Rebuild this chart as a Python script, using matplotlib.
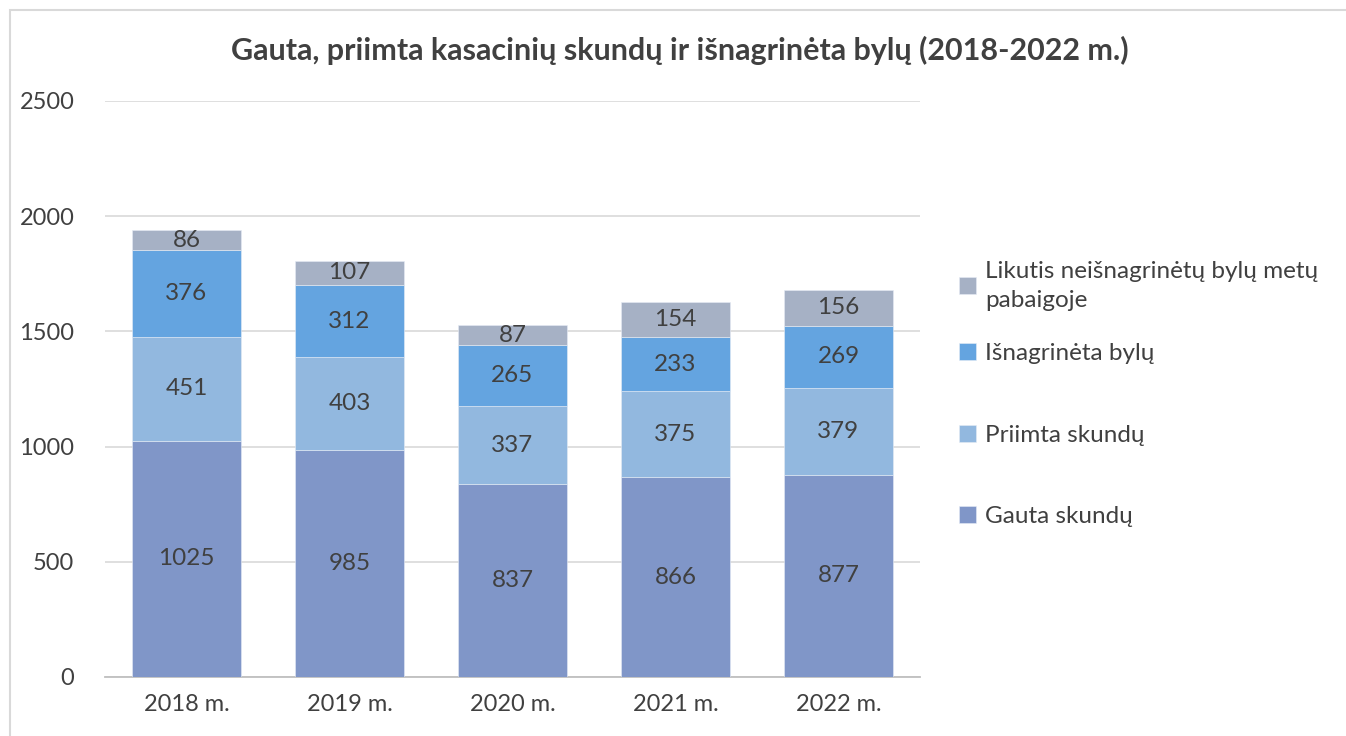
import numpy as np
import matplotlib.pyplot as plt
from matplotlib.patches import Rectangle

plt.rcParams['font.family'] = ['Lato', 'DejaVu Sans']

years = ['2018 m.', '2019 m.', '2020 m.', '2021 m.', '2022 m.']
gauta = [1025, 985, 837, 866, 877]
priimta = [451, 403, 337, 375, 379]
isnagrineta = [376, 312, 265, 233, 269]
likutis = [86, 107, 87, 154, 156]

series = [
    ('Gauta skundų', gauta, '#8096C8'),
    ('Priimta skundų', priimta, '#92B8DF'),
    ('Išnagrinėta bylų', isnagrineta, '#64A4E0'),
    ('Likutis neišnagrinėtų bylų metų\npabaigoje', likutis, '#A6B1C5'),
]

fig = plt.figure(figsize=(13.46, 7.36), dpi=100)
ax = fig.add_axes([0.078, 0.0802, 0.6055, 0.7826])

x = np.arange(len(years))
bottom = np.zeros(len(years))
handles = []
for name, vals, col in series:
    b = ax.bar(x, vals, width=0.67, bottom=bottom, color=col, label=name,
               edgecolor='#E6ECF5', linewidth=0.4, zorder=3)
    handles.append(b)
    for xi, v, b0 in zip(x, vals, bottom):
        ax.text(xi, b0 + v / 2, str(v), ha='center', va='center',
                fontsize=17.5, color='#404040', zorder=4)
    bottom += np.array(vals)

ax.set_xlim(-0.5, len(years) - 0.5)
ax.set_ylim(0, 2500)
ax.set_yticks(np.arange(0, 2501, 500))
ax.set_xticks(x)
ax.set_xticklabels(years)
ax.tick_params(axis='both', length=0, labelsize=17, labelcolor='#404040')
ax.tick_params(axis='y', pad=22)
ax.tick_params(axis='x', pad=12)
ax.grid(axis='y', color='#D9D9D9', linewidth=1.2, zorder=0)
for s in ['top', 'right', 'left']:
    ax.spines[s].set_visible(False)
ax.spines['bottom'].set_color('#BFBFBF')
ax.spines['bottom'].set_linewidth(1.3)

fig.text(0.505, 0.932, 'Gauta, priimta kasacinių skundų ir išnagrinėta bylų (2018-2022 m.)',
         ha='center', va='center', fontsize=22, fontweight='bold', color='#404040')

# legend in two parts: the wrapped entry at top, then the other three
leg_kw = dict(loc='upper left', frameon=False, fontsize=17.5, labelcolor='#404040',
              handlelength=0.7, handleheight=0.7, handletextpad=0.4)
leg1 = fig.legend([handles[3]], [series[3][0]], bbox_to_anchor=(0.696, 0.675), **leg_kw)
for t in leg1.get_texts():
    t.set_linespacing(1.45)
leg2 = fig.legend(handles[2::-1], [s[0] for s in series[2::-1]],
                  bbox_to_anchor=(0.696, 0.564), labelspacing=2.5, **leg_kw)

fig.patches.append(Rectangle((10 / 1346, -0.1), 1.2, 1 - 10 / 736 + 0.1,
                             transform=fig.transFigure, fill=False,
                             edgecolor='#D9D9D9', linewidth=1.5))

fig.savefig('out.png', dpi=100)
